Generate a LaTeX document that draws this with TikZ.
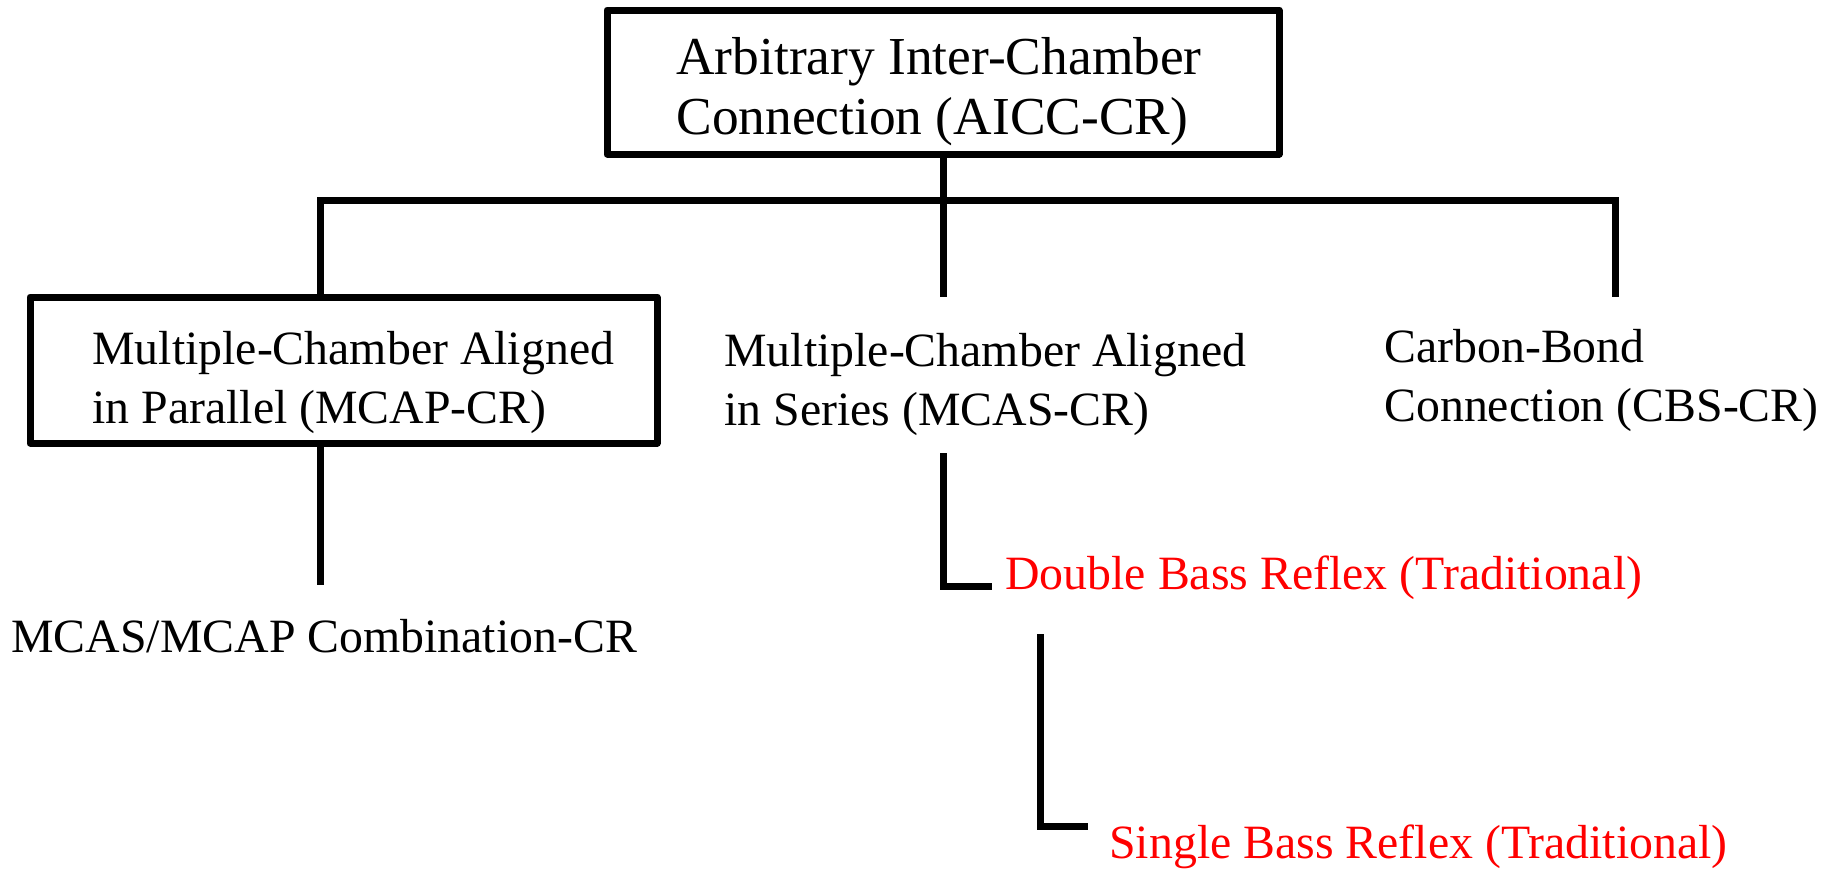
\documentclass[tikz,border=0pt]{standalone}
\usepackage{fontspec}
\setmainfont{Liberation Serif}
\definecolor{reflexred}{RGB}{255,0,0}
\begin{document}
\begin{tikzpicture}[x=0.5pt,y=-0.5pt,
  frame/.style={draw=black,line width=3.5pt,inner sep=0pt,line join=round},
  wire/.style={draw=black,line width=3.5pt},
  toptext/.style={inner sep=0pt,align=left,anchor=base west,font=\fontsize{26.7pt}{30pt}\selectfont},
  lbl/.style={inner sep=0pt,align=left,anchor=base west,font=\fontsize{23.9pt}{29.25pt}\selectfont},
  redlbl/.style={lbl,text=reflexred}]
\useasboundingbox (0,0) rectangle (1844,869);

% root box (text placed by the baseline of its last line)
\node[frame,minimum width=336pt,minimum height=72pt] (aicc) at (943,82) {};
\node[toptext] (aicctxt) at (676,134) {Arbitrary Inter-Chamber\\Connection (AICC-CR)};

% first level
\node[frame,minimum width=313.5pt,minimum height=73pt] (mcap) at (343.5,370) {};
\node[lbl] (mcaptxt) at (92,423) {Multiple-Chamber Aligned\\in Parallel (MCAP-CR)};
\node[lbl] (mcas) at (724,425) {Multiple-Chamber Aligned\\in Series (MCAS-CR)};
\node[lbl] (cbs) at (1384,421) {Carbon-Bond\\Connection (CBS-CR)};

% second level
\node[lbl] (combo) at (11,652) {MCAS/MCAP Combination-CR};
\node[redlbl] (dbr) at (1005,589) {Double Bass Reflex (Traditional)};
\node[redlbl] (sbr) at (1109,858) {Single Bass Reflex (Traditional)};

% connector points
\coordinate (busL) at (320,200);
\coordinate (busR) at (1615,200);
\coordinate (mcapTop) at (320,297);
\coordinate (mcasTop) at (943,297);
\coordinate (cbsTop) at (1615,297);
\coordinate (mcapBot) at (320,443);
\coordinate (comboTop) at (320,585);
\coordinate (mcasBot) at (943,453);
\coordinate (dbrHook) at (943,586);
\coordinate (dbrEnd) at (992,586);
\coordinate (sbrTop) at (1040,634);
\coordinate (sbrHook) at (1040,826);
\coordinate (sbrEnd) at (1088,826);

% tree wiring
\draw[wire] (aicc.south) -- (mcasTop);
\draw[wire] (mcapTop) -- (busL) -- (busR) -- (cbsTop);
\draw[wire] (mcapBot) -- (comboTop);
\draw[wire] (mcasBot) -- (dbrHook) -- (dbrEnd);
\draw[wire] (sbrTop) -- (sbrHook) -- (sbrEnd);
\end{tikzpicture}
\end{document}
